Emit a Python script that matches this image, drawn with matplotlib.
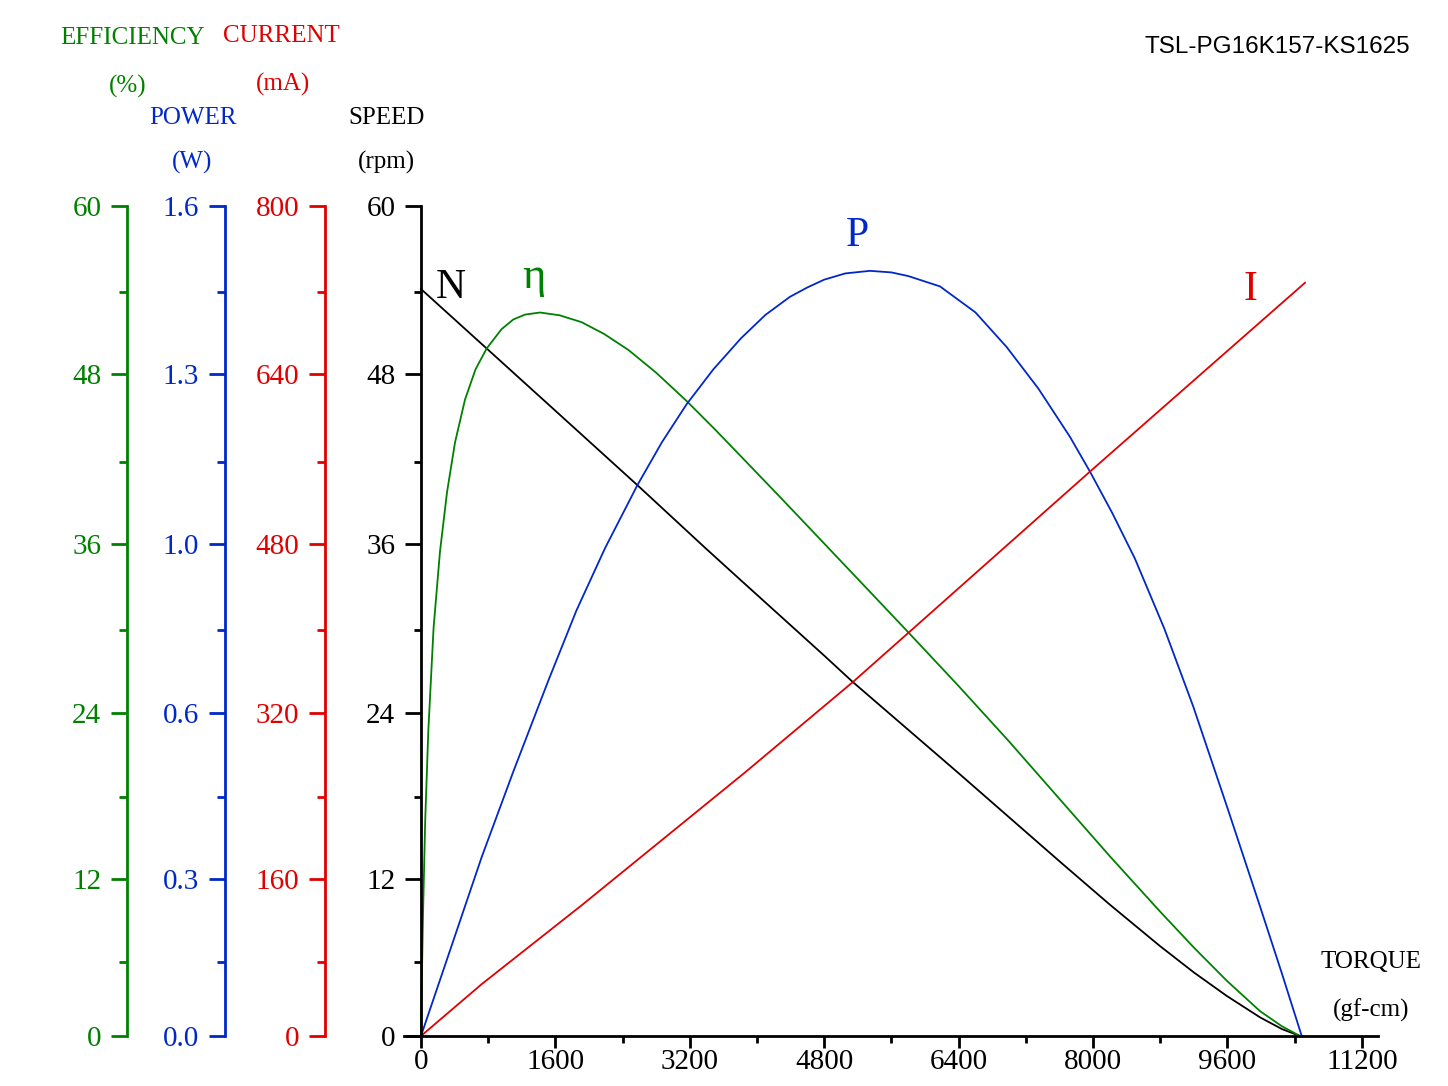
import matplotlib
matplotlib.use('Agg')
import matplotlib.pyplot as plt
from matplotlib.ticker import FixedLocator

plt.rcParams['font.family'] = ['Liberation Serif', 'DejaVu Serif']
plt.rcParams['axes.unicode_minus'] = False

W, H = 1448, 1086

GREEN = '#008000'
BLUE  = '#0028c8'
RED   = '#e00000'

# --- data (torque in gf-cm) ---
speed_torque = [0, 782, 1600, 2580, 3381, 3798, 4800, 5139, 6400, 7607, 8200, 8798,
                9200, 9592, 9988, 10250, 10464]
speed_rpm    = [54.0, 49.7, 45.2, 39.8, 35.3, 33.0, 27.5, 25.6, 19.0, 12.6, 9.5, 6.5,
                4.6, 2.9, 1.35, 0.5, 0.0]

eff_torque = [0, 10, 25, 50, 87, 150, 226, 310, 405, 524, 650, 782, 960, 1100, 1238,
              1417, 1650, 1913, 2180, 2468, 2800, 3163, 3500, 3857, 4300, 4730, 5300,
              5822, 6400, 7000, 7607, 8200, 8798, 9200, 9592, 9988, 10250, 10464]
eff_pct    = [0, 4.0, 9.0, 15.5, 22.0, 29.5, 35.0, 39.3, 42.9, 46.0, 48.2, 49.7, 51.1,
              51.8, 52.15, 52.3, 52.1, 51.6, 50.75, 49.6, 47.95, 45.9, 43.85, 41.6, 38.8,
              36.05, 32.4, 29.05, 25.3, 21.3, 17.1, 13.0, 9.0, 6.4, 4.0, 1.8, 0.7, 0]

power_torque = [0, 325, 723, 1100, 1516, 1850, 2190, 2580, 2870, 3163, 3480, 3810, 4100,
                4393, 4600, 4800, 5050, 5345, 5600, 5800, 6179, 6600, 6973, 7350, 7726,
                7964, 8230, 8500, 8850, 9194, 9600, 9988, 10250, 10485]
power_w      = [0, 0.155, 0.345, 0.51, 0.685, 0.82, 0.94, 1.063, 1.145, 1.218, 1.285,
                1.345, 1.39, 1.425, 1.443, 1.458, 1.470, 1.475, 1.472, 1.465, 1.445,
                1.395, 1.328, 1.248, 1.155, 1.088, 1.008, 0.92, 0.785, 0.635, 0.44,
                0.25, 0.12, 0]

current_torque = [0, 723, 1913, 3857, 5139, 5822, 7964, 10524]
current_ma     = [0, 50, 126, 254, 341, 390, 544, 726]

# tick positions as printed on the reference axes
speed_ticks    = [0, 11.35, 23.35, 35.57, 47.86, 60]
speed_labels   = ['0', '12', '24', '36', '48', '60']
minor_ticks    = [5.35, 17.28, 29.35, 41.5, 53.8]
power_labels   = ['0.0', '0.3', '0.6', '1.0', '1.3', '1.6']
current_labels = ['0', '160', '320', '480', '640', '800']
torque_ticks   = [0, 1600, 3200, 4800, 6400, 8000, 9600, 11200]
torque_minor   = [800, 2400, 4000, 5600, 7200, 8800, 10400]

TICK_FS = 21


def fx(px):
    return px / W


def fy(py):
    return 1 - py / H


fig = plt.figure(figsize=(W / 100, H / 100), dpi=100)

# main axes: speed (left spine at torque 0) and torque
y0, y1 = 1036, 206
ax = fig.add_axes([fx(404), fy(y0), (1378 - 404) / W, (y0 - y1) / H])
ax.set_xlim(-202, 11393)
ax.set_ylim(0, 60)
ax.spines[['top', 'right']].set_visible(False)
ax.spines['left'].set_position(('data', 0))
for s in ('left', 'bottom'):
    ax.spines[s].set_linewidth(2)
ax.set_yticks(speed_ticks)
ax.set_yticklabels(speed_labels)
ax.yaxis.set_minor_locator(FixedLocator(minor_ticks))
ax.set_xticks(torque_ticks)
ax.xaxis.set_minor_locator(FixedLocator(torque_minor))
ax.tick_params(axis='y', which='major', length=11.5, width=2, pad=7, labelsize=TICK_FS)
ax.tick_params(axis='y', which='minor', length=5, width=2)
ax.tick_params(axis='x', which='major', length=8.5, width=2, pad=1, labelsize=TICK_FS)
ax.tick_params(axis='x', which='minor', length=5, width=2)

ax.plot(speed_torque, speed_rpm, color='black', lw=1.3, clip_on=False)
ax.plot(eff_torque, eff_pct, color=GREEN, lw=1.3, clip_on=False)
ax.plot(power_torque, [p / 1.6 * 60 for p in power_w], color=BLUE, lw=1.3, clip_on=False)
ax.plot(current_torque, [c / 800 * 60 for c in current_ma], color=RED, lw=1.3, clip_on=False)


def side_axis(xpix, labels, color):
    # every side scale shares the speed axis geometry, only the labels differ
    a = fig.add_axes([fx(xpix), fy(y0), 1e-4, (y0 - y1) / H])
    a.set_ylim(0, 60)
    a.set_xticks([])
    a.spines[['top', 'right', 'bottom']].set_visible(False)
    a.spines['left'].set_color(color)
    a.spines['left'].set_linewidth(2)
    a.set_yticks(speed_ticks)
    a.set_yticklabels(labels)
    a.yaxis.set_minor_locator(FixedLocator(minor_ticks))
    a.tick_params(axis='y', which='major', length=11.5, width=2, pad=7,
                  labelsize=TICK_FS, colors=color)
    a.tick_params(axis='y', which='minor', length=6, width=2, colors=color)
    a.patch.set_alpha(0)
    return a


side_axis(127, speed_labels, GREEN)
side_axis(225, power_labels, BLUE)
side_axis(325, current_labels, RED)

# axis titles
TITLE_FS = 18


def label(px, py, s, color, fs=TITLE_FS, **kw):
    fig.text(fx(px), fy(py), s, color=color, fontsize=fs, ha='center', va='center', **kw)


label(133, 38, 'EFFICIENCY', GREEN)
label(128, 86, '(%)', GREEN)
label(281, 36, 'CURRENT', RED)
label(283, 84, '(mA)', RED)
label(193, 118, 'POWER', BLUE)
label(192, 162, '(W)', BLUE)
label(387, 118, 'SPEED', 'black')
label(386, 162, '(rpm)', 'black')
label(1371, 962, 'TORQUE', 'black')
label(1371, 1010, '(gf-cm)', 'black')

# curve names
label(451, 288, 'N', 'black', fs=30)
label(534, 277, 'η', GREEN, fs=32)
label(857, 236, 'P', BLUE, fs=30)
label(1250, 290, 'I', RED, fs=30)

fig.text(fx(1410), fy(47), 'TSL-PG16K157-KS1625', fontsize=17.5, color='black',
         ha='right', va='center', family='Liberation Sans')

fig.savefig('out.png', dpi=100, facecolor='white')
